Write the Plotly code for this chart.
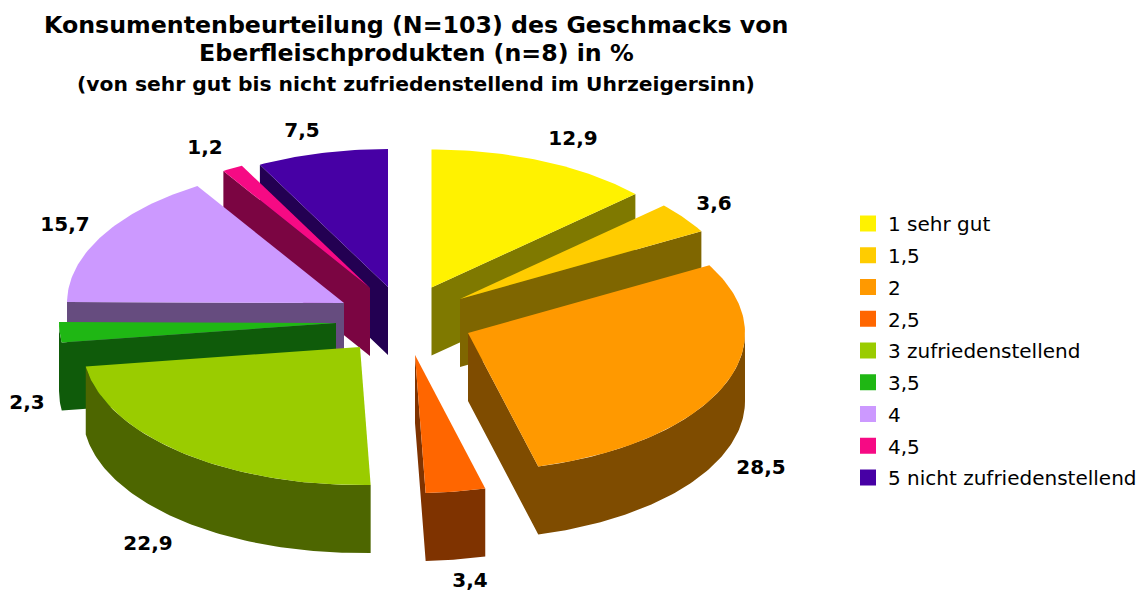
import math
import plotly.graph_objects as go

# --- data ---
categories = ["1 sehr gut", "1,5", "2", "2,5", "3 zufriedenstellend", "3,5", "4", "4,5",
              "5 nicht zufriedenstellend"]
values = [12.9, 3.6, 28.5, 3.4, 22.9, 2.3, 15.7, 1.2, 7.5]
title_lines = ["Konsumentenbeurteilung (N=103) des Geschmacks von",
               "Eberfleischprodukten (n=8) in %"]
subtitle = "(von sehr gut bis nicht zufriedenstellend im Uhrzeigersinn)"

# --- style and layout, kept apart from the data ---
colors = ["#FFF200", "#FFCC00", "#FF9900", "#FF6600", "#9ACC00", "#1FB714", "#CC99FF", "#F60A84", "#4700A5"]
apex_x = [431.5, 460, 468, 415, 360, 336, 344, 370, 388]
apex_y = [287.5, 299, 333, 355, 347, 323, 303, 288, 287]
label_x = [573, 714, 761, 470, 148, 27, 65, 205, 302]
label_y = [139.5, 204.5, 468.5, 582, 544.5, 403.5, 225.5, 148.5, 131.5]
paint_order = [8, 7, 6, 5, 4, 0, 1, 2, 3]
RX, RY, DEPTH = 277, 138, 68
W, H = 1142, 591
FONT = "DejaVu Sans"


def dark(c):
    r, g, b = (int(c[i:i + 2], 16) for i in (1, 3, 5))
    return f"rgb({r // 2},{g // 2},{b // 2})"


def rim(i, deg):
    t = math.radians(deg)
    return apex_x[i] + RX * math.sin(t), apex_y[i] - RY * math.cos(t)


def arc(i, a, b):
    n = max(2, int(abs(b - a)) + 2)
    return [rim(i, a + (b - a) * k / (n - 1)) for k in range(n)]


total = sum(values)
edges = [0.0]
for v in values:
    edges.append(edges[-1] + 360 * v / total)

fig = go.Figure()
for i in paint_order:
    a, b = edges[i], edges[i + 1]
    ax, ay = apex_x[i], apex_y[i]
    mx, my = rim(i, (a + b) / 2)
    wx, wy = [], []
    # radial side faces that look towards the viewer
    for ang in (a, b):
        px, py = rim(i, ang)
        dx, dy = px - ax, py - ay
        side = dx * (my - ay) - dy * (mx - ax)
        if dx * side < 0:
            wx += [ax, px, px, ax, ax, None]
            wy += [ay, py, py + DEPTH, ay + DEPTH, ay, None]
    # outer rim, front half only
    lo, hi = max(a, 90), min(b, 270)
    if hi > lo:
        pts = arc(i, lo, hi)
        wx += [p[0] for p in pts] + [p[0] for p in reversed(pts)] + [pts[0][0], None]
        wy += [p[1] for p in pts] + [p[1] + DEPTH for p in reversed(pts)] + [pts[0][1], None]
    if wx:
        fig.add_trace(go.Scatter(x=wx, y=wy, mode="lines", fill="toself", fillcolor=dark(colors[i]),
                                 line=dict(width=0), showlegend=False, hoverinfo="skip"))
    pts = arc(i, a, b)
    fig.add_trace(go.Scatter(x=[ax] + [p[0] for p in pts] + [ax], y=[ay] + [p[1] for p in pts] + [ay],
                             mode="lines", fill="toself", fillcolor=colors[i], line=dict(width=0),
                             name=categories[i], showlegend=False, text=f"{values[i]}".replace(".", ","),
                             hoverinfo="name+text"))

# value labels
fig.add_trace(go.Scatter(x=label_x, y=label_y, mode="text",
                         text=[f"{v:.1f}".replace(".", ",") for v in values],
                         textfont=dict(family=FONT, size=20, color="#000000", weight="bold"),
                         textposition="middle center", showlegend=False, hoverinfo="skip", cliponaxis=False))

# legend entries
for i, c in enumerate(categories):
    fig.add_trace(go.Scatter(x=[None], y=[None], mode="markers", name=c, legendgroup=c,
                             marker=dict(symbol="square", size=16, color=colors[i]), hoverinfo="skip"))

fig.add_annotation(x=416, y=25, xref="x", yref="y", text=title_lines[0], showarrow=False,
                   font=dict(family=FONT, size=23.7, color="#000", weight="bold"))
fig.add_annotation(x=416, y=53, xref="x", yref="y", text=title_lines[1], showarrow=False,
                   font=dict(family=FONT, size=23.7, color="#000", weight="bold"))
fig.add_annotation(x=416, y=84, xref="x", yref="y", text=subtitle, showarrow=False,
                   font=dict(family=FONT, size=20.3, color="#000", weight="bold"))

fig.update_layout(
    width=W, height=H, autosize=False, margin=dict(l=0, r=0, t=0, b=0),
    paper_bgcolor="#FFFFFF", plot_bgcolor="#FFFFFF",
    xaxis=dict(range=[0, W], visible=False, fixedrange=True),
    yaxis=dict(range=[H, 0], visible=False, fixedrange=True),
    legend=dict(x=848 / W, y=1 - 204 / H, xanchor="left", yanchor="top", tracegroupgap=2.75,
                bgcolor="rgba(0,0,0,0)", font=dict(family=FONT, size=20, color="#000"),
                itemclick=False, itemdoubleclick=False),
)
fig.write_html("out.html", config={"displayModeBar": False},
               post_script="document.body.style.margin='0';document.body.style.overflow='hidden';")
